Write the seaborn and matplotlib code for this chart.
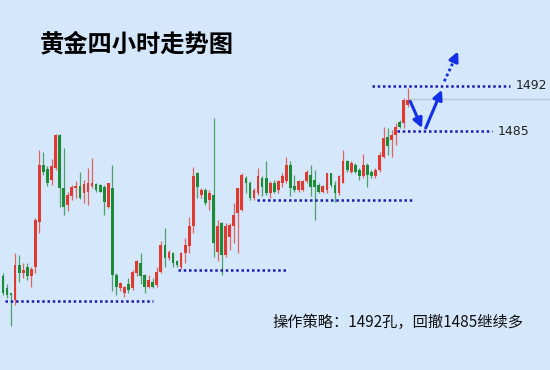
import numpy as np
import pandas as pd
import matplotlib
matplotlib.use("Agg")
import matplotlib.pyplot as plt
import seaborn as sns

# ---------------- data ----------------
opens = [1464.2, 1462.8, 1460.9, 1460.2, 1459.1, 1464.4, 1463.2, 1464.2, 1462.7, 1464.2,
         1471.1, 1479.9, 1479.2, 1477.5, 1479.3, 1484.5, 1476.3, 1473.7, 1475.0, 1476.3,
         1476.6, 1475.5, 1475.7, 1476.6, 1476.9, 1476.8, 1476.5, 1473.4, 1476.3, 1462.9,
         1460.9, 1460.1, 1461.6, 1460.9, 1463.2, 1464.8, 1462.9, 1461.1, 1461.9, 1461.4,
         1463.4, 1467.5, 1465.5, 1466.3, 1465.0, 1464.2, 1466.3, 1467.3, 1470.4, 1478.6,
         1475.2, 1476.0, 1474.5, 1475.2, 1466.5, 1470.9, 1466.0, 1468.8, 1470.4, 1472.4,
         1472.9, 1477.8, 1477.0, 1474.7, 1475.5, 1477.8, 1477.8, 1475.5, 1477.0, 1476.0,
         1477.0, 1477.3, 1479.8, 1476.6, 1476.0, 1476.0, 1477.3, 1478.3, 1477.5, 1476.8,
         1475.7, 1476.0, 1478.6, 1476.8, 1475.5, 1477.0, 1480.4, 1478.8, 1479.8, 1479.1,
         1478.1, 1479.8, 1478.7, 1478.1, 1479.1, 1481.1, 1484.2, 1483.7, 1484.5, 1486.5,
         1486.3, 1489.1]
highs = [1465.0, 1463.2, 1461.6, 1460.2, 1466.3, 1466.0, 1464.8, 1464.7, 1464.2, 1471.6,
         1482.2, 1481.9, 1479.6, 1480.7, 1484.6, 1484.6, 1482.4, 1475.7, 1476.8, 1477.3,
         1478.8, 1477.5, 1479.3, 1480.9, 1477.0, 1476.9, 1476.8, 1477.1, 1479.9, 1463.2,
         1461.9, 1461.2, 1462.4, 1463.7, 1465.2, 1466.3, 1463.1, 1462.9, 1462.4, 1464.2,
         1468.1, 1470.1, 1466.8, 1466.5, 1465.2, 1466.5, 1468.6, 1471.9, 1479.5, 1478.8,
         1476.3, 1476.3, 1476.0, 1487.0, 1471.4, 1471.1, 1470.9, 1470.9, 1474.0, 1476.3,
         1478.6, 1478.1, 1477.3, 1476.3, 1479.3, 1478.1, 1480.4, 1477.3, 1477.5, 1477.5,
         1478.6, 1481.1, 1480.4, 1478.3, 1477.5, 1477.5, 1479.1, 1479.8, 1479.1, 1477.0,
         1476.8, 1478.6, 1478.6, 1477.3, 1478.3, 1482.2, 1480.6, 1480.4, 1480.1, 1479.3,
         1481.5, 1480.1, 1479.0, 1479.3, 1481.9, 1485.7, 1485.5, 1485.2, 1486.3, 1486.8,
         1490.1, 1491.6]
lows = [1462.4, 1459.8, 1459.3, 1455.0, 1458.3, 1461.9, 1462.4, 1462.2, 1461.1, 1463.2,
        1469.3, 1478.3, 1476.6, 1476.8, 1479.1, 1473.4, 1472.2, 1472.7, 1474.5, 1474.7,
        1474.6, 1474.0, 1473.7, 1476.3, 1475.7, 1475.6, 1472.2, 1473.2, 1460.4, 1459.8,
        1460.4, 1459.6, 1460.1, 1460.6, 1462.7, 1461.6, 1460.2, 1460.9, 1460.9, 1461.1,
        1463.2, 1464.2, 1465.2, 1464.2, 1464.2, 1463.9, 1464.7, 1466.3, 1469.3, 1474.7,
        1474.7, 1473.7, 1472.9, 1465.7, 1465.0, 1462.9, 1465.7, 1466.8, 1467.8, 1466.3,
        1472.7, 1475.5, 1474.5, 1474.5, 1475.2, 1475.0, 1475.2, 1474.7, 1475.5, 1475.5,
        1476.5, 1477.0, 1475.0, 1475.7, 1475.7, 1475.9, 1477.0, 1475.0, 1471.4, 1475.5,
        1475.5, 1475.5, 1476.5, 1474.2, 1475.2, 1477.0, 1478.8, 1478.6, 1478.6, 1477.5,
        1477.8, 1476.5, 1477.8, 1477.8, 1478.8, 1480.9, 1481.4, 1481.1, 1482.9, 1485.5,
        1485.5, 1488.8]
closes = [1462.7, 1460.1, 1459.8, 1459.8, 1464.4, 1463.2, 1463.7, 1462.7, 1463.9, 1471.4,
          1479.9, 1478.8, 1477.0, 1479.6, 1484.5, 1476.3, 1473.4, 1475.2, 1476.5, 1476.6,
          1474.7, 1476.9, 1477.0, 1477.1, 1476.0, 1475.7, 1474.2, 1477.0, 1462.9, 1461.1,
          1461.7, 1461.1, 1460.6, 1463.4, 1465.0, 1462.7, 1461.1, 1462.2, 1461.1, 1463.4,
          1467.5, 1465.5, 1466.5, 1464.7, 1464.5, 1466.3, 1467.5, 1470.4, 1478.1, 1476.5,
          1476.0, 1474.0, 1475.5, 1467.8, 1470.4, 1466.0, 1470.4, 1470.6, 1472.2, 1476.3,
          1478.3, 1477.0, 1474.7, 1476.0, 1478.1, 1476.5, 1475.5, 1477.0, 1475.7, 1477.3,
          1478.1, 1479.8, 1476.3, 1476.0, 1477.3, 1477.3, 1478.8, 1476.5, 1476.5, 1475.7,
          1476.6, 1478.6, 1476.8, 1475.5, 1478.1, 1480.4, 1479.1, 1480.1, 1478.8, 1478.1,
          1479.8, 1478.3, 1478.1, 1479.1, 1481.4, 1484.0, 1482.7, 1484.5, 1485.7, 1485.7,
          1489.8, 1489.8]

support_levels = [1458.9, 1463.7, 1474.5]
support_spans = [(1.5, 38.1), (44.2, 71.2), (63.8, 102.3)]
target_levels = [1492, 1485]
target_labels = ["1492", "1485"]
target_spans = [(92.2, 126.3), (98.4, 121.8)]
current_price = 1490.0

title = "黄金四小时走势图"
strategy = "操作策略：1492孔，回撤1485继续多"

df = pd.DataFrame({"open": opens, "high": highs, "low": lows, "close": closes})
df["idx"] = np.arange(len(df))
df["up"] = df["close"] >= df["open"]

# ---------------- style ----------------
BG = "#d5e7fa"
RED = "#e0392f"
GREEN = "#1d8a38"
NAVY = "#1c1cb0"
BLUE = "#1230e6"

sns.set_theme(style="white")
plt.rcParams["font.family"] = ["Noto Sans CJK SC", "DejaVu Sans"]

fig = plt.figure(figsize=(5.5, 3.7), dpi=100)
fig.patch.set_facecolor(BG)
ax = fig.add_axes([0, 0, 1, 1])
ax.set_facecolor(BG)

# candles: wicks then bodies
for up, col in [(True, RED), (False, GREEN)]:
    d = df[df["up"] == up]
    ax.vlines(d["idx"], d["low"], d["high"], color=col, lw=0.9, alpha=0.75, zorder=2)
    bottom = np.minimum(d["open"], d["close"])
    height = np.maximum(np.abs(d["close"] - d["open"]), 0.2)
    ax.bar(d["idx"], height, bottom=bottom, width=0.68, color=col, linewidth=0, zorder=3)

dot = (0, (1.0, 1.1))
for lvl, (x0, x1) in zip(support_levels, support_spans):
    ax.plot([x0, x1], [lvl, lvl], color=NAVY, lw=1.8, linestyle=dot, zorder=4)
for lvl, (x0, x1), lab in zip(target_levels, target_spans, target_labels):
    ax.plot([x0, x1], [lvl, lvl], color=NAVY, lw=1.8, linestyle=dot, zorder=4)
    ax.text(x1 + 1.3, lvl, lab, fontsize=9, color="#222222", va="center", ha="left",
            family="DejaVu Sans")

# current price line
ax.plot([101.1, 140], [current_price, current_price], color="#b8c7da", lw=1.0, zorder=1)

# arrows
ap = dict(arrowstyle="-|>", color=BLUE, lw=2.2, mutation_scale=14, shrinkA=0, shrinkB=0)
ax.annotate("", xy=(104.5, 1485.5), xytext=(101.6, 1489.6), arrowprops=ap, zorder=5)
ax.annotate("", xy=(109.4, 1491.4), xytext=(105.4, 1485.5), arrowprops=ap, zorder=5)
ax.plot([110.0, 112.6], [1492.7, 1496.2], color=BLUE, lw=2.0, linestyle=(0, (1, 1)), zorder=5)
ax.annotate("", xy=(113.4, 1497.3), xytext=(112.4, 1495.9), arrowprops=ap, zorder=5)

ax.set_xlim(0.27, 136.1)
ax.set_ylim(1448.3, 1505.2)
ax.axis("off")

fig.text(40 / 550, 1 - 44 / 370, title, fontsize=17.5, fontweight="bold", color="black",
         va="center", ha="left")
fig.text(272 / 550, 1 - 322 / 370, strategy, fontsize=11, color="#111111",
         va="center", ha="left")

fig.savefig("out.png", dpi=100, facecolor=BG)
